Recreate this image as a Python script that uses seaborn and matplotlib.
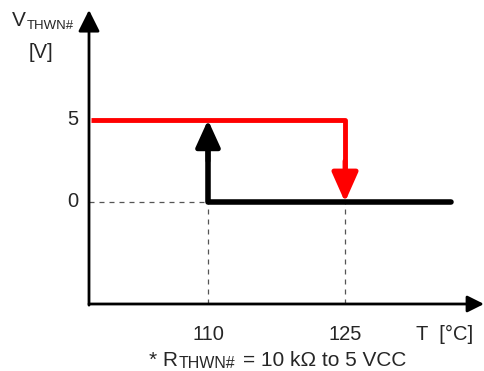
import matplotlib
matplotlib.use("Agg")
import pandas as pd
import seaborn as sns
import matplotlib.pyplot as plt

sns.set_style("white")
plt.rcParams['font.family'] = ['Liberation Sans', 'DejaVu Sans']

# temperatures and output voltage of the THWN# pin
red_T = [97.2, 125, 125]
red_V = [5, 5, 0.9]
black_T = [110, 110, 136.6]
black_V = [4.2, 0, 0]
trip_T = [110, 125]
trip_V = [5, 0]
y_ticks = [0, 5]
x_ticks = [110, 125]

red = pd.DataFrame({'T': red_T, 'V': red_V})
black = pd.DataFrame({'T': black_T, 'V': black_V})

W, H = 484, 371
fig = plt.figure(figsize=(W / 100, H / 100), dpi=100)
ax = fig.add_axes([0, 0, 1, 1])
# pixel -> data: 110 degC at px 208, 125 at px 345; 5 V at py 120, 0 V at py 202
sx = (345 - 208) / 15
sy = (202 - 120) / 5

x0 = 110 - (208 - 89) / sx      # y axis position
y0 = -(304 - 202) / sy          # x axis position
xtip = 110 + (484 - 208) / sx
ytip = (202 - 10) / sy

# dashed guides
ax.plot([x0, 110], [0, 0], ls=(0, (4, 4)), color='#555555', lw=0.9)
for t in x_ticks:
    ax.plot([t, t], [y0, 0], ls=(0, (4, 4)), color='#555555', lw=0.9)

sns.lineplot(data=black, x='T', y='V', sort=False, estimator=None,
             color='black', lw=4, ax=ax, solid_capstyle='round')
sns.lineplot(data=red, x='T', y='V', sort=False, estimator=None,
             color='#ff0000', lw=3.5, ax=ax, solid_capstyle='butt')
ax.set_xlim(110 - 208 / sx, 110 + (W - 208) / sx)
ax.set_ylim(-(H - 202) / sy, 202 / sy)
ax.axis('off')

# axes with arrows
ax.annotate('', xy=(x0, ytip), xytext=(x0, y0 - 0.07),
            arrowprops=dict(arrowstyle='-|>,head_length=1.3,head_width=0.65',
                            color='black', lw=2, shrinkA=0, shrinkB=0))
ax.annotate('', xy=(xtip, y0), xytext=(x0, y0),
            arrowprops=dict(arrowstyle='-|>,head_length=1.0,head_width=0.5',
                            color='black', lw=2, shrinkA=0, shrinkB=0))

# arrow heads of the switching points
ax.annotate('', xy=(trip_T[0], trip_V[0]), xytext=(trip_T[0], 2.5),
            arrowprops=dict(arrowstyle='-|>,head_length=1.65,head_width=0.75',
                            color='black', lw=3.5, shrinkA=0, shrinkB=0))
ax.annotate('', xy=(trip_T[1], trip_V[1]), xytext=(trip_T[1], 2.5),
            arrowprops=dict(arrowstyle='-|>,head_length=1.8,head_width=0.8',
                            color='#ff0000', lw=3.5, shrinkA=0, shrinkB=0))

fs = 14.5
for v in y_ticks:
    ax.text(x0 - 11 / sx, v, str(v), ha='right', va='center', fontsize=fs)
for t in x_ticks:
    ax.text(t, y0 - 31 / sy, str(t), ha='center', va='center', fontsize=fs)
ax.text(416 / W, 1 - 334 / H, 'T  [°C]', transform=ax.transAxes,
        ha='left', va='center', fontsize=fs)

# y label
ax.text(12 / W, 1 - 20 / H, 'V', transform=ax.transAxes, ha='left',
        va='center', fontsize=15)
ax.text(27 / W, 1 - 26 / H, 'THWN#', transform=ax.transAxes, ha='left',
        va='center', fontsize=9.5)
ax.text(41 / W, 1 - 52 / H, '[V]', transform=ax.transAxes, ha='center',
        va='center', fontsize=fs)

# footnote
ax.text(149 / W, 1 - 360 / H, '* R', transform=ax.transAxes, ha='left',
        va='center', fontsize=15)
ax.text(179 / W, 1 - 364 / H, 'THWN#', transform=ax.transAxes, ha='left',
        va='center', fontsize=11.5)
ax.text(243 / W, 1 - 360 / H, '= 10 kΩ to 5 VCC', transform=ax.transAxes,
        ha='left', va='center', fontsize=15)

fig.savefig('out.png', dpi=100)
